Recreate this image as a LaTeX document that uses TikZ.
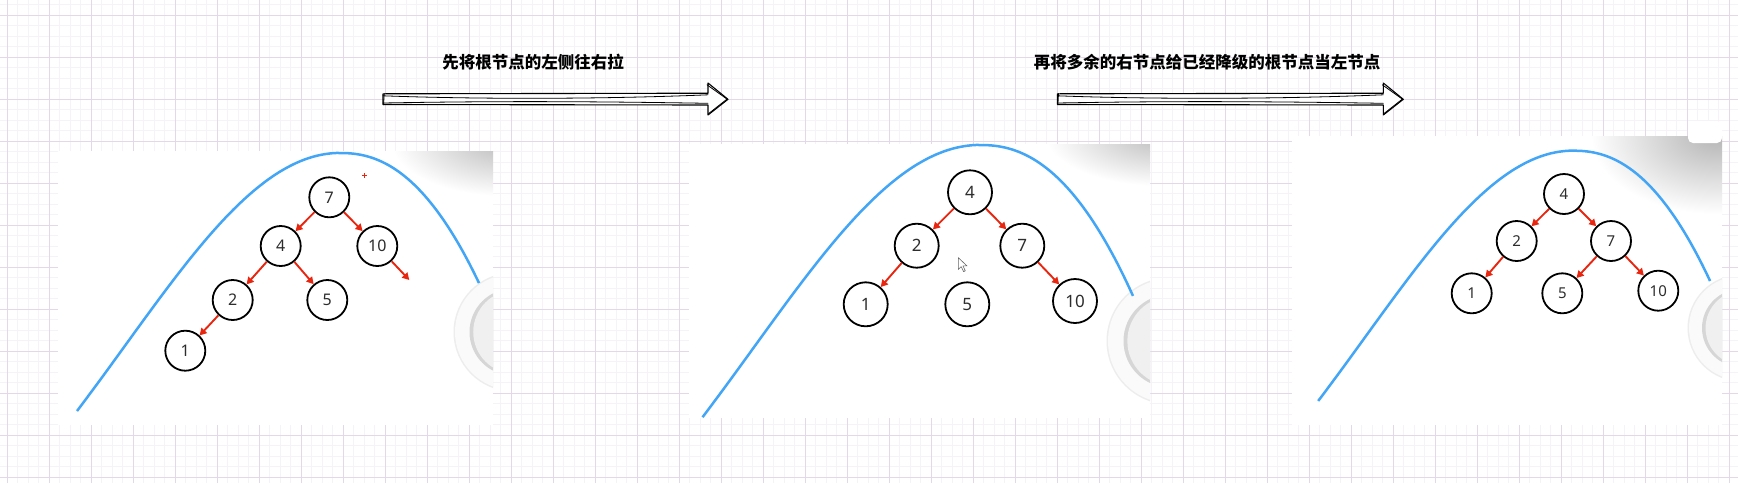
\documentclass[tikz,border=0pt]{standalone}
\usepackage{fontspec}
\newfontfamily\cjk{Noto Sans CJK SC}
\newfontfamily\numf{Noto Sans}
\usetikzlibrary{arrows.meta}
\definecolor{gridmaj}{RGB}{226,216,234}
\definecolor{gridmin}{RGB}{245,243,247}
\definecolor{curveblue}{RGB}{66,165,245}
\definecolor{arrred}{RGB}{232,38,16}
\definecolor{numgray}{RGB}{45,45,45}
\newcommand\sketcharrow[2]{%
  \draw[bigarrow] (#1,93.8) -- (#2,93.2) -- (#2,83) -- ({#2+20},99.3) -- (#2,115) -- (#2,105) -- (#1,104.5) -- cycle;
  \draw[sketchline] (#1,95.8) .. controls ({#1+100},99.5) and ({#2-100},99) .. (#2,94.8);
  \draw[sketchline] (#1,103) .. controls ({#1+120},100.8) and ({#2-110},101.5) .. (#2,103.3);
  \draw[sketchline] ({#2-1},84.8) -- ({#2+19},99.1) -- ({#2+0.6},113.6);
  \draw[sketchline] ({#1+1.2},93.5) -- ({#1+0.6},104.8);
}
\newcommand\bluecurve[2]{%
  \draw[curvestyle] plot[domain=-#1:0,samples=70] (\x,{489*(1-exp(-(\x/100)*(\x/100)/9.2225))})
    -- plot[domain=0:#2,samples=50] (\x,{0.3486*(\x/10)*(\x/10)*sqrt(sqrt(\x/10))});
}
\newcommand\plate[3]{%
  \fill[black!7] (#1,#2) circle ({#3+1.5});
  \fill[black!2] (#1,#2) circle (#3);
  \fill[black!16] (#1,#2) circle ({#3*0.75});
  \fill[black!6] ({#1+2},#2) circle ({#3*0.72});
}
\begin{document}
\begin{tikzpicture}[x=1pt,y=-1pt,
  treenode/.style={circle,draw=black,line width=1.8pt,minimum size=40pt,inner sep=0pt,text=numgray,font=\numf\fontsize{16}{16}\selectfont},
  bignode/.style={treenode,minimum size=44pt,font=\numf\fontsize{17}{17}\selectfont},
  smallnode/.style={treenode,font=\numf\fontsize{15}{15}\selectfont},
  redarrow/.style={draw=arrred,line width=1.9pt,-{Triangle[length=7pt,width=7.5pt]}},
  curvestyle/.style={draw=curveblue,line width=2.5pt},
  bigarrow/.style={draw=black,line width=1.1pt,fill=white,line join=round},
  sketchline/.style={draw=black,line width=0.8pt,line cap=round},
  title/.style={font=\cjk\bfseries\fontsize{16.5}{16.5}\selectfont,text=black,inner sep=0pt},
  panel/.style={fill=white,draw=none},
  minorgrid/.style={draw=gridmin,line width=1pt},
  majorgrid/.style={draw=gridmaj,line width=1pt}]
\useasboundingbox (0,0) rectangle (1738,483);
\fill[white] (0,0) rectangle (1738,483);
% grid
\foreach \i in {0,...,166} {\draw[minorgrid] ({-3.5+10.5*\i},0) -- ({-3.5+10.5*\i},483);}
\foreach \i in {0,...,46} {\draw[minorgrid] (0,{4.5+10.5*\i}) -- (1738,{4.5+10.5*\i});}
\foreach \i in {0,...,41} {\draw[majorgrid] ({7+42*\i},0) -- ({7+42*\i},483);}
\foreach \i in {0,...,11} {\draw[majorgrid] (0,{15+42*\i}) -- (1738,{15+42*\i});}

% titles and arrows
\node[title] (t1) at (533,61.7) {先将根节点的左侧往右拉};
\node[title] (t2) at (1207,61.7) {再将多余的右节点给已经降级的根节点当左节点};
\sketcharrow{383}{708}
\sketcharrow{1057.3}{1383.3}

% ---------- panel 1 ----------
\fill[panel] (58,151) rectangle (493,425);
\begin{scope}
\clip (58,151) rectangle (493,425);
\shade[inner color=black!27,outer color=white] (506,141) ellipse (115 and 55);
\plate{513}{332}{58}
\end{scope}
\begin{scope}[shift={(340,153)}]
\bluecurve{263}{139}
\end{scope}
\draw[arrred,line width=0.8pt] (362,175.7) -- (366.6,175.7) (364.3,173.4) -- (364.3,178);
\node[treenode] (p1n7) at (329.3,197.3) {7};
\node[treenode] (p1n4) at (280.7,246) {4};
\node[treenode] (p1n10) at (377.3,246) {10};
\node[treenode] (p1n2) at (232.7,300) {2};
\node[treenode] (p1n5) at (327.3,300) {5};
\node[treenode] (p1n1) at (185.3,350.7) {1};
\coordinate (p1e) at (409.3,280);
\draw[redarrow] (p1n7) -- (p1n4);
\draw[redarrow] (p1n7) -- (p1n10);
\draw[redarrow] (p1n4) -- (p1n2);
\draw[redarrow] (p1n4) -- (p1n5);
\draw[redarrow] (p1n2) -- (p1n1);
\draw[redarrow] (p1n10) -- (p1e);

% ---------- panel 2 ----------
\fill[panel] (689,144) rectangle (1150,418);
\begin{scope}
\clip (689,144) rectangle (1150,418);
\shade[inner color=black!27,outer color=white] (1163,134) ellipse (118 and 52);
\plate{1170}{341}{62}
\end{scope}
\begin{scope}[shift={(980,145)},scale=1.055]
\bluecurve{263}{145}
\end{scope}
\node[bignode] (p2n4) at (970,192.3) {4};
\node[bignode] (p2n2) at (916.7,245.7) {2};
\node[bignode] (p2n7) at (1022.3,245.7) {7};
\node[bignode] (p2n1) at (865.7,304.3) {1};
\node[bignode] (p2n5) at (967.3,304.3) {5};
\node[bignode] (p2n10) at (1075,301) {10};
\draw[redarrow] (p2n4) -- (p2n2);
\draw[redarrow] (p2n4) -- (p2n7);
\draw[redarrow] (p2n2) -- (p2n1);
\draw[redarrow] (p2n7) -- (p2n10);
\draw[draw=black!60,fill=white,line width=0.6pt,line join=round] (958.3,257.7) -- (958.3,269.5) -- (961.2,266.6) -- (963.6,271.6) -- (965.3,270.8) -- (963,265.9) -- (967,265.9) -- cycle;

% ---------- panel 3 ----------
\fill[panel] (1292,136) rectangle (1722,425);
\begin{scope}
\clip (1292,136) rectangle (1722,425);
\shade[inner color=black!29,outer color=white] (1716,136) ellipse (125 and 78);
\plate{1741}{328}{52}
\end{scope}
\fill[white,rounded corners=5pt] (1688,121) rectangle (1722,143);
\begin{scope}[shift={(1573.3,150.7)},scale=0.97]
\bluecurve{263}{141}
\end{scope}
\node[smallnode] (p3n4) at (1564,194) {4};
\node[smallnode] (p3n2) at (1516.7,241) {2};
\node[smallnode] (p3n7) at (1611,241) {7};
\node[smallnode] (p3n1) at (1471.7,293.3) {1};
\node[smallnode] (p3n5) at (1562.3,293.3) {5};
\node[smallnode] (p3n10) at (1658.3,290.7) {10};
\draw[redarrow] (p3n4) -- (p3n2);
\draw[redarrow] (p3n4) -- (p3n7);
\draw[redarrow] (p3n2) -- (p3n1);
\draw[redarrow] (p3n7) -- (p3n5);
\draw[redarrow] (p3n7) -- (p3n10);
\end{tikzpicture}
\end{document}
